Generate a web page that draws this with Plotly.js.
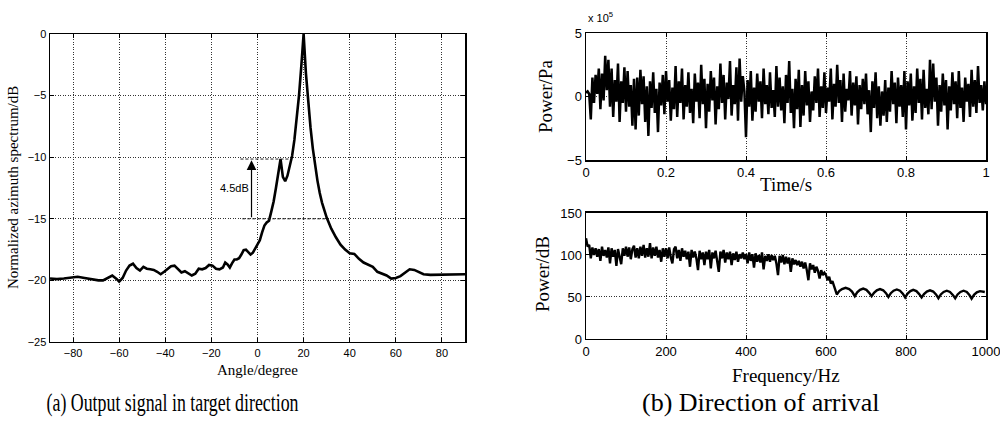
<!DOCTYPE html>
<html>
<head>
<meta charset="utf-8">
<script src="https://cdn.plot.ly/plotly-3.0.1.min.js"></script>
<style>html,body{margin:0;padding:0;background:#fff;}#chart{width:1000px;height:429px;}</style>
</head>
<body>
<div id="chart"></div>
<script>
// (a) Normalized azimuth spectrum
const angleDeg = [-90,-87,-84,-81,-78,-75,-72,-69,-67,-65,-63,-61,-60,-58.5,-57,-55.5,-54,-52.5,-51,-49.5,-48,-46.5,-45,-43.5,-42,-40.5,-39,-37.5,-36,-34.5,-33,-31.5,-30,-28.5,-27,-25.5,-24,-22.5,-21,-19.5,-18,-16.5,-15,-14,-13,-12,-11,-10,-9,-8,-7,-6,-5,-4,-3,-2,-1,0,1,2,3,4,5,6,7,8,9,10,11,12,13,14,15,16,17,18,19,20,21,22,23,24,25,26,27,28,30,32,34,36,38,40,42,44,46,48,50,52,54,56,58,60,62,64,66,68,70,72,75,80,85,90];
const spectrumDb = [-19.85,-19.9,-19.85,-19.8,-19.7,-19.8,-19.9,-20.0,-20.0,-19.8,-19.6,-19.9,-20.1,-19.8,-19.2,-18.8,-18.65,-19.0,-19.2,-18.9,-19.05,-19.1,-19.15,-19.3,-19.5,-19.3,-19.05,-18.85,-18.8,-19.1,-19.35,-19.25,-19.45,-19.6,-19.45,-19.05,-19.1,-19.0,-18.75,-18.8,-19.05,-19.1,-18.95,-18.55,-18.7,-18.95,-18.6,-18.3,-18.3,-18.2,-17.9,-17.55,-17.5,-17.75,-17.9,-17.75,-17.45,-17.1,-16.75,-16.1,-15.55,-15.3,-15.15,-14.4,-13.6,-12.5,-11.3,-10.15,-11.6,-11.95,-11.5,-10.8,-9.9,-8.6,-7.0,-5.0,-2.6,0,-3.2,-5.6,-7.6,-9.3,-10.7,-11.9,-12.9,-13.7,-14.9,-15.8,-16.5,-17.1,-17.5,-17.8,-17.85,-18.25,-18.55,-18.75,-18.9,-19.3,-19.45,-19.6,-19.85,-19.8,-19.65,-19.4,-19.1,-19.15,-19.3,-19.5,-19.55,-19.55,-19.55,-19.5];
const angleTicks = [-80,-60,-40,-20,0,20,40,60,80];
const dbTicks = [-25,-20,-15,-10,-5,0];
const sidelobePeak = -10.15, mainFloor = -15, gapLabel = "4.5dB";

// (b) top: time signal (x 10^5 Pa)
const timeStart = 0, timeStep = 0.004;
const pressure = [
0.3,0.4,0.2,-1.8,1.5,-0.5,1.7,0.2,2.2,-1.0,1.8,-0.3,3.2,0.5,2.9,-0.8,2.2,-1.6,1.3,-0.4,2.6,-2.0,1.2,-0.5,2.3,
-1.2,2.0,-0.8,0.9,-2.3,1.4,-2.6,1.5,-1.5,2.1,-0.6,1.6,-2.0,0.8,-3.1,1.2,-0.9,1.9,-1.3,0.6,-2.8,1.1,-0.7,1.7,-1.4,
2.0,-0.4,1.3,-1.9,0.7,-1.0,2.4,-1.6,1.2,-0.5,2.2,-1.8,0.9,-0.8,1.9,-1.3,0.6,-2.1,1.8,-0.4,1.1,-1.7,2.5,-0.6,1.4,
-2.5,1.0,-1.2,2.0,-0.3,1.5,-2.2,0.8,-1.0,2.6,-0.5,1.7,-1.8,1.1,-0.2,2.8,-1.5,0.9,-0.6,2.3,-1.9,3.0,-0.4,1.6,0.4,
-3.2,1.3,-0.8,2.0,-1.9,0.7,-1.2,1.8,-0.4,1.2,-1.7,2.2,-0.6,0.9,-1.4,1.9,-0.9,0.5,-1.6,2.4,-0.8,1.5,-1.1,0.8,-2.1,
1.7,-0.5,2.8,-1.3,0.6,-2.5,1.4,-1.0,2.1,-2.4,0.9,-1.5,2.0,-0.7,1.2,-2.0,0.4,-1.1,1.6,-0.5,2.2,-1.6,0.8,-0.9,1.9,
-1.3,0.7,-0.4,2.2,-1.8,1.0,-0.8,2.5,-0.5,1.3,-2.0,1.8,-1.2,0.6,-0.3,2.0,-1.5,1.1,-0.7,1.6,-2.2,0.9,-1.0,1.4,-0.6,
1.8,-1.4,0.5,-2.8,1.2,-0.9,1.9,-1.7,0.8,-2.3,0.4,-1.5,1.3,-2.0,0.7,-1.2,2.0,-0.6,1.1,-2.1,1.5,-0.8,0.9,-1.6,2.0,
-2.6,1.2,-0.7,1.8,-1.9,0.8,-1.3,2.2,-0.5,1.4,-1.8,2.1,-0.9,0.6,-1.4,2.9,-1.0,2.6,-0.4,1.5,-2.3,0.9,-1.2,1.8,-0.7,
1.3,-2.6,0.8,-1.1,1.9,-0.6,1.2,-1.7,2.0,-0.9,0.7,-2.0,1.5,-0.4,1.0,-1.6,2.1,-0.8,1.3,-1.3,2.4,-0.5,0.9,-1.1,1.2,-0.6];
const timeTicks = [0,0.2,0.4,0.6,0.8,1];
const timeTickText = ['0','0.2','0.4','0.6','0.8','1'];
const pressureTicks = [-5,0,5];

// (b) bottom: spectrum
const freqStart = 0, freqStep = 4;
const powerNoisy = [
120,110,112,96,109,100,108,98,107,93,110,99,106,97,109,90,108,98,106,87,107,97,89,108,99,
110,98,109,95,107,111,97,108,96,110,99,112,97,108,98,114,96,109,99,110,97,106,92,108,98,
108,96,109,97,90,107,110,96,106,93,108,98,105,95,104,86,106,97,104,96,82,105,95,103,88,
104,95,106,84,103,96,105,93,80,104,96,106,91,103,95,104,88,102,94,104,92,101,96,103,95,
101,90,103,93,101,85,102,92,100,91,103,83,99,93,101,92,100,94,99,90,76,99,91,100,89,
98,90,97,80,96,89,94,88,93,86,92,84,91,82,70,90,83,88,79,86,81,72,82,76,79,
76,70,74,66,69,62];
const freqScallop = [627,633,640,649,658,665,672,678,685,693,701,708,714,720,727,735,743,750,756,762,769,777,785,792,798,804,811,818,826,833,839,845,852,860,868,875,881,887,894,902,910,917,923,929,936,944,952,959,964,970,977,985,993,997];
const powerScallop = [53,57,59.5,61,59.5,56.5,51,55.5,58.5,60,58.5,55,51,55,58,59.5,58,54.5,50,54.5,57.5,59,57.5,54,49.5,54,57,58.5,57,53.5,49.5,53.5,56.5,58,56.5,53,48.5,53,56,57.5,56,52.5,48.5,53,56,57.5,56,52,48,52.5,55.5,57,56.5,56];
const freqTicks = [0,200,400,600,800,1000];
const powerTicks = [0,50,100,150];

const captionA = '(a) Output signal in target direction';
const captionB = '(b) Direction of arrival';

const timeAxis = pressure.map((_, i) => +(timeStart + i * timeStep).toFixed(4));
const freqNoisy = powerNoisy.map((_, i) => freqStart + i * freqStep);
const freqAll = freqNoisy.concat(freqScallop);
const powerAll = powerNoisy.concat(powerScallop);

const serif = "Liberation Serif, Times New Roman, serif";
const sans = "Liberation Sans, Arial, sans-serif";
const gridCol = "#333";

function ax(extra) {
  return Object.assign({
    showline: true, mirror: 'all', linecolor: '#000', linewidth: 1.5,
    ticks: 'inside', ticklen: 4, tickcolor: '#000',
    showgrid: true, gridcolor: gridCol, griddash: '1px,1.5px', gridwidth: 1,
    zeroline: false, fixedrange: true, ticklabeloverflow: 'allow'
  }, extra);
}

function label(x, y, text, size, fam, extra) {
  return Object.assign({xref: 'paper', yref: 'paper', x: x, y: y, xanchor: 'center', yanchor: 'middle',
    text: text, showarrow: false, font: {family: fam, size: size, color: '#000'}}, extra || {});
}

const traces = [
  {x: angleDeg, y: spectrumDb, xaxis: 'x', yaxis: 'y', mode: 'lines', line: {color: '#000', width: 2.6}, hoverinfo: 'skip'},
  {x: timeAxis, y: pressure, xaxis: 'x2', yaxis: 'y2', mode: 'lines', line: {color: '#000', width: 2.5}, hoverinfo: 'skip'},
  {x: freqAll, y: powerAll, xaxis: 'x3', yaxis: 'y3', mode: 'lines', line: {color: '#000', width: 2.4}, hoverinfo: 'skip'}
];

const annotations = [
  {xref: 'x', yref: 'y', axref: 'x', ayref: 'y', x: -2.6, y: sidelobePeak - 0.1, ax: -2.6, ay: mainFloor, showarrow: true, arrowhead: 2, arrowsize: 1.6, arrowwidth: 1.2, arrowcolor: '#000', text: ''},
  {xref: 'x', yref: 'y', x: -9.8, y: -12.5, xanchor: 'center', yanchor: 'middle', text: gapLabel, showarrow: false, font: {family: sans, size: 11, color: '#000'}},
  label(0.257, 1 - 370/429, 'Angle/degree', 15, serif),
  label(0.013, 1 - 188/429, 'Normalized azimuth spectrum/dB', 15, serif, {textangle: -90}),
  label(0.545, 1 - 97/429, 'Power/Pa', 19, serif, {textangle: -90}),
  label(0.786, 1 - 185/429, 'Time/s', 19, serif),
  label(0.542, 1 - 274/429, 'Power/dB', 19, serif, {textangle: -90}),
  label(0.786, 1 - 375/429, 'Frequency/Hz', 19, serif),
  label(0.586, 1 - 26/429, 'x 10<sup>5</sup>', 11, sans, {xanchor: 'left', yanchor: 'bottom'}),
  label(0.172, 1 - 402/429, captionA, 26, serif),
  label(0.761, 1 - 402/429, captionB, 26, serif)
];
const captionAIndex = annotations.length - 2;

const layout = {
  width: 1000, height: 429,
  margin: {l: 0, r: 0, t: 0, b: 0, autoexpand: false},
  paper_bgcolor: '#fff', plot_bgcolor: '#fff',
  showlegend: false,
  xaxis: ax({domain: [0.05, 0.465], range: [-90, 90], tickvals: angleTicks, anchor: 'y', tickfont: {family: sans, size: 11, color: '#000'}}),
  yaxis: ax({domain: [0.2028, 0.9207], range: [-25, 0], tickvals: dbTicks, anchor: 'x', tickfont: {family: sans, size: 11, color: '#000'}}),
  xaxis2: ax({domain: [0.586, 0.986], range: [0, 1], tickvals: timeTicks, ticktext: timeTickText, anchor: 'y2', tickfont: {family: sans, size: 13, color: '#000'}}),
  yaxis2: ax({domain: [0.627, 0.923], range: [-5, 5], tickvals: pressureTicks, anchor: 'x2', tickfont: {family: sans, size: 13, color: '#000'}}),
  xaxis3: ax({domain: [0.586, 0.986], range: [0, 1000], tickvals: freqTicks, anchor: 'y3', tickfont: {family: sans, size: 13, color: '#000'}}),
  yaxis3: ax({domain: [0.2098, 0.5035], range: [0, 150], tickvals: powerTicks, anchor: 'x3', tickfont: {family: sans, size: 13, color: '#000'}}),
  shapes: [
    {type: 'line', xref: 'x', yref: 'y', x0: -7.4, x1: 13.5, y0: sidelobePeak, y1: sidelobePeak, line: {color: '#222', width: 1, dash: '3px,2px'}},
    {type: 'line', xref: 'x', yref: 'y', x0: -6.6, x1: 30.4, y0: mainFloor, y1: mainFloor, line: {color: '#222', width: 1, dash: '3px,2px'}}
  ],
  annotations: annotations
};

Plotly.newPlot('chart', traces, layout, {staticPlot: true, displayModeBar: false}).then(function (gd) {
  // the reference caption (a) is set in a horizontally condensed face
  const t = gd.querySelector('.annotation[data-index="' + captionAIndex + '"] text.annotation-text');
  if (t) {
    const bb = t.getBBox();
    const cx = bb.x + bb.width / 2;
    const s = 252 / bb.width;
    const prev = t.getAttribute('transform') || '';
    t.setAttribute('transform', prev + ' translate(' + cx + ',0) scale(' + s + ',1) translate(' + (-cx) + ',0)');
  }
});
</script>
</body>
</html>
